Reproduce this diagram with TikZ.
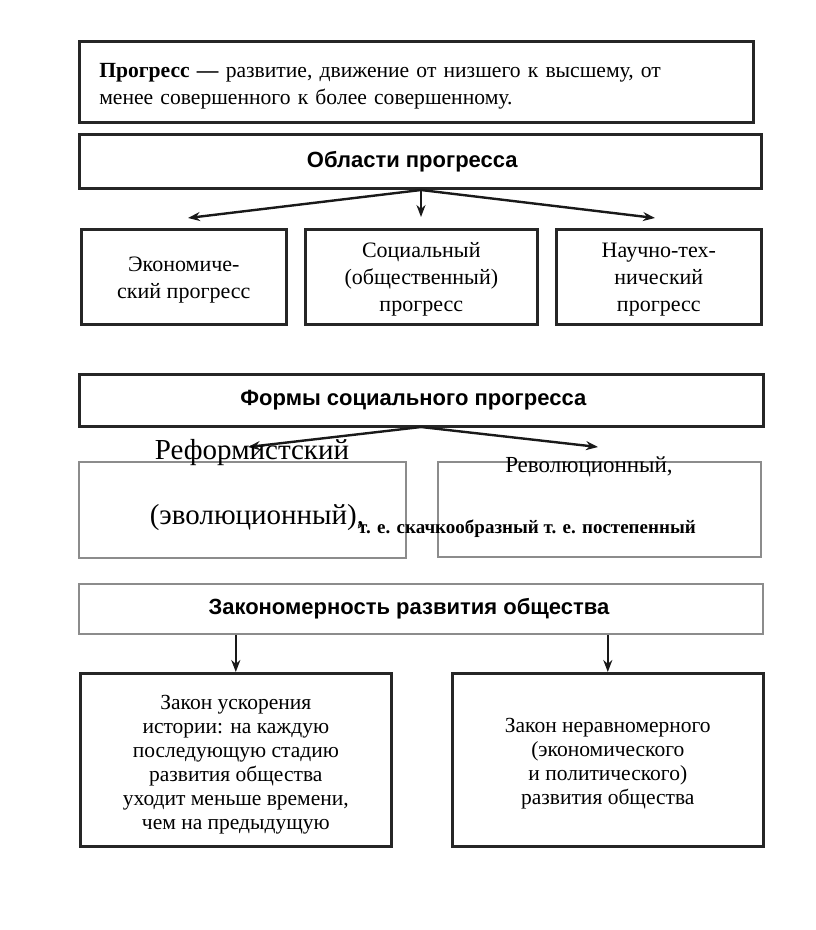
\documentclass[tikz,border=0pt]{standalone}
\usepackage{fontspec}
\setmainfont{Liberation Serif}
\setsansfont{Liberation Sans}
\usetikzlibrary{arrows.meta}
\begin{document}
\begin{tikzpicture}[x=1pt,y=-1pt,
  box/.style={draw=black!85, line width=2.6pt, rectangle, inner sep=0pt, anchor=north west, align=center},
  gbox/.style={box, draw=black!45, line width=1.9pt},
  serifm/.style={font=\fontsize{22}{27}\selectfont},
  serifs/.style={font=\fontsize{21.5}{24}\selectfont, inner sep=0pt, align=center},
  headf/.style={font=\sffamily\bfseries\fontsize{22}{24}\selectfont},
  arr/.style={line width=2.4pt, draw=black!90, -{Stealth[length=12pt,width=9pt]}}
]
\useasboundingbox (0,0) rectangle (816,930);
% definition
\node[box, minimum width=674pt, minimum height=81pt] (def) at (78,40) {};
\node[text width=634pt, inner sep=0pt, align=left, font=\fontsize{21.6}{27}\selectfont] (deft) at ([yshift=-4pt]def.center)
  {\textbf{Прогресс —} развитие, движение от низшего к высшему, от\\менее совершенного к более совершенному.};
% areas
\node[box, minimum width=682pt, minimum height=54pt, headf] (areas) at (78,133) {Области прогресса\hspace*{16pt}};
\node[box, minimum width=205pt, minimum height=95pt] (eco) at (80,228) {};
\node[box, minimum width=232pt, minimum height=95pt] (soc) at (304,228) {};
\node[box, minimum width=205pt, minimum height=95pt] (sci) at (555,228) {};
\node[serifm, align=center, inner sep=0pt] (ecot) at ([yshift=-3pt]eco.center) {Экономиче-\\ский прогресс};
\node[serifm, align=center, inner sep=0pt] (soct) at ([yshift=-3pt]soc.center) {Социальный\\(общественный)\\прогресс};
\node[serifm, align=center, inner sep=0pt] (scit) at ([yshift=-3pt]sci.center) {Научно-тех-\\нический\\прогресс};
\coordinate (aroot) at (421,190);
\coordinate (aL) at (188,218);
\coordinate (aM) at (421,217);
\coordinate (aR) at (655,218);
\draw[arr] (aroot) -- (aL);
\draw[arr] (aroot) -- (aM);
\draw[arr] (aroot) -- (aR);
% forms
\node[box, minimum width=684pt, minimum height=52pt, headf] (forms) at (78,373) {Формы социального прогресса\hspace*{16pt}};
\node[gbox, minimum width=327pt, minimum height=96pt] (ref) at (78,461) {};
\node[gbox, minimum width=323pt, minimum height=95pt] (rev) at (437,461) {};
\coordinate (froot) at (421,427);
\coordinate (fL) at (248,447);
\coordinate (fR) at (598,447);
\draw[arr] (froot) -- (fL);
\draw[arr] (froot) -- (fR);
\node[font=\fontsize{29}{32}\selectfont, inner sep=0pt, anchor=base] (reft1) at (252,459) {Реформистский};
\node[font=\fontsize{29}{32}\selectfont, inner sep=0pt, anchor=base] (reft2) at (257,524) {(эволюционный),};
\node[font=\bfseries\fontsize{19}{22}\selectfont, inner sep=0pt, anchor=base] (revt2) at (527,533) {т. е. скачкообразный т. е. постепенный};
\node[font=\fontsize{23}{26}\selectfont, inner sep=0pt, anchor=base] (revt1) at (589,472) {Революционный,};
% law
\node[gbox, minimum width=684pt, minimum height=50pt, headf] (law) at (78,583) {Закономерность развития общества\hspace*{24pt}};
\node[box, minimum width=311pt, minimum height=173pt] (lb) at (79,672) {};
\node[box, minimum width=311pt, minimum height=173pt] (rb) at (451,672) {};
\node[serifs] (lbt) at ([yshift=-5pt]lb.center)
  {Закон ускорения\\истории: на каждую\\последующую стадию\\развития общества\\уходит меньше времени,\\чем на предыдущую};
\node[serifs] (rbt) at ([yshift=-4pt]rb.center)
  {Закон неравномерного\\(экономического\\и политического)\\развития общества};
\draw[arr] (law.south -| lb.north) -- (lb.north);
\draw[arr] (law.south -| rb.north) -- (rb.north);
\end{tikzpicture}
\end{document}
